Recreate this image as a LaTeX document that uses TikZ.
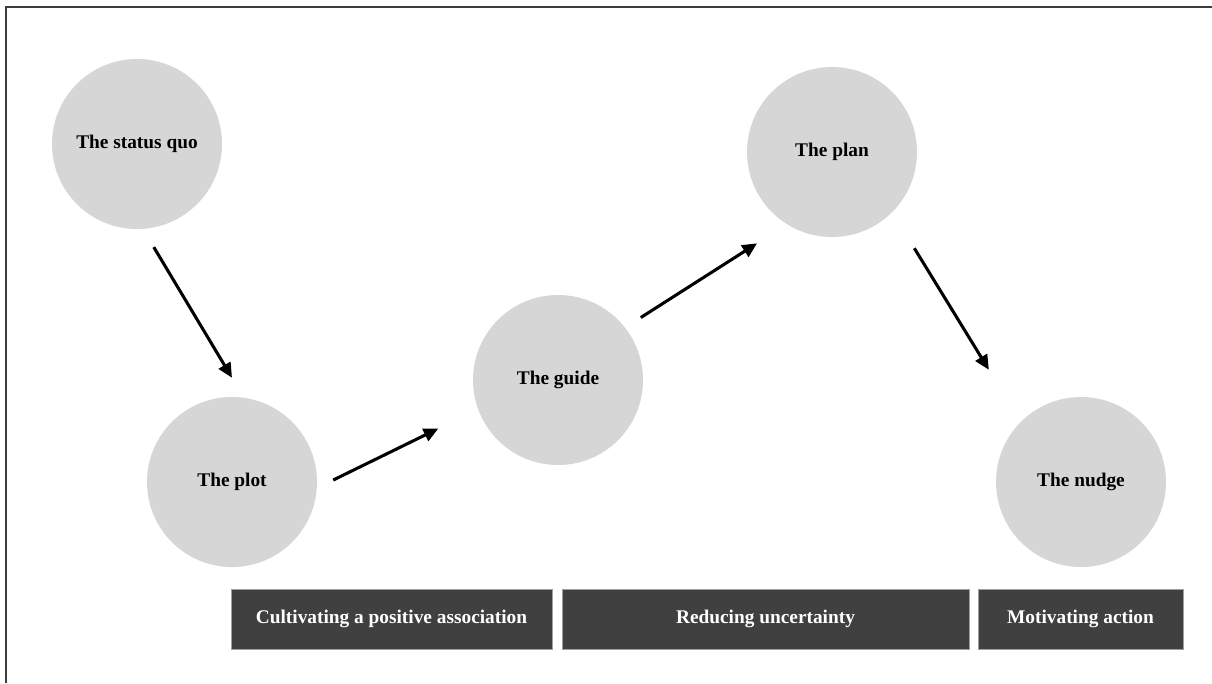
\documentclass[tikz,border=0pt]{standalone}
\usepackage{fontspec}
\setmainfont{Liberation Serif}
\usetikzlibrary{arrows.meta}
\definecolor{circlegray}{HTML}{D6D6D6}
\definecolor{boxgray}{HTML}{404040}
\definecolor{framegray}{HTML}{3C3C3C}

\begin{document}
\begin{tikzpicture}[x = 0.75pt, y = -0.75pt,
	stage/.style = {circle, fill = circlegray, minimum size = 127.5pt, inner sep = 0pt,
		font = \fontsize{14.5pt}{16pt}\selectfont\bfseries},
	phase/.style = {rectangle, fill = boxgray, draw = gray!75, line width = 0.6pt,
		minimum height = 45pt, inner sep = 0pt, text = white,
		font = \fontsize{14.5pt}{16pt}\selectfont\bfseries},
	flow/.style = {line width = 2.3pt, -{Triangle[length = 11pt, width = 10pt]}}]
	\fill[white] (0, 0) rectangle (1212, 683);
	\useasboundingbox (0, 0) rectangle (1212, 683);
	\draw[framegray, line width = 1.5pt] (5.5, 683) -- (5.5, 6.5) -- (1212, 6.5);
	% stages
	\node[stage] (squo)  at (137,  144) {The status quo};
	\node[stage] (plot)  at (232,  482) {The plot};
	\node[stage] (guide) at (558,  380) {The guide};
	\node[stage] (plan)  at (832,  152) {The plan};
	\node[stage] (nudge) at (1081, 482) {The nudge};
	% phases
	\node[phase, minimum width = 240.75pt] (assoc)  at (391.5,  619) {Cultivating a positive association};
	\node[phase, minimum width = 305.25pt] (uncert) at (765.5,  619) {Reducing uncertainty};
	\node[phase, minimum width = 153.75pt] (action) at (1080.5, 619) {Motivating action};
	% arrows
	\draw[flow, shorten < = 15.8pt, shorten > = 17.3pt] (squo.-86.6) -- (plot.82);
	\draw[flow, shorten < = 13.5pt, shorten > = 33pt] (plot.-4) -- (guide.200.6);
	\draw[flow, shorten < = 13.9pt, shorten > = 26.5pt] (guide.38.7) -- (plan.238);
	\draw[flow, shorten < = 31.6pt, shorten > = 45.7pt] (plan.-45.1) -- (nudge.135);
\end{tikzpicture}
\end{document}
